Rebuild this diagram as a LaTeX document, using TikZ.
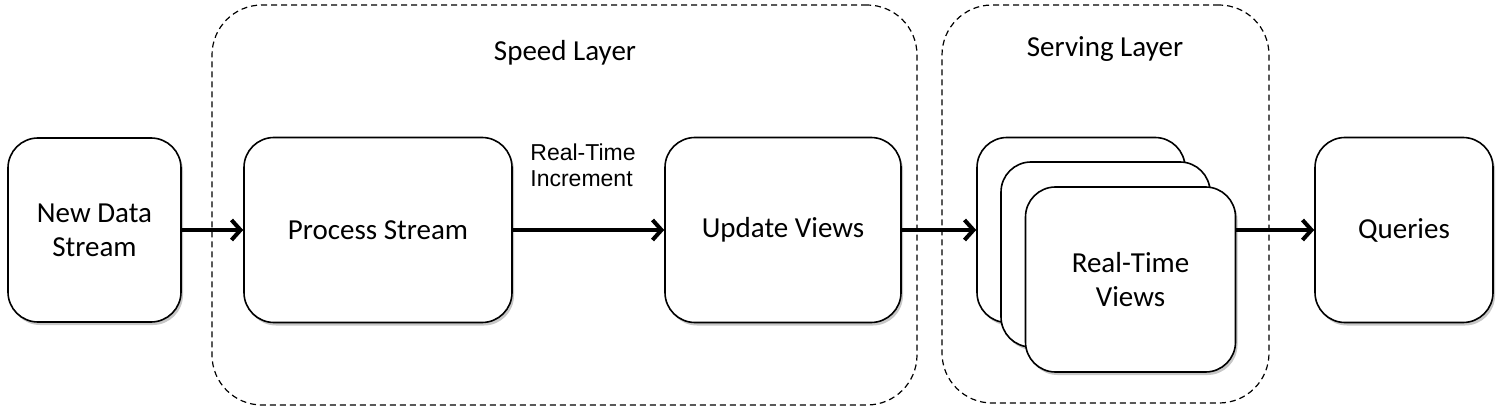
\documentclass[tikz,border=0pt]{standalone}
\usepackage{fontspec}
\setmainfont{Carlito}
\newfontfamily\arialfont{Liberation Sans}
\usetikzlibrary{arrows.meta,shadows}
\begin{document}
\begin{tikzpicture}[x=1pt,y=-1pt,
  box/.style={draw=black, line width=1.6pt, fill=white, rounded corners=30pt,
    inner sep=0pt, align=center, font=\fontsize{29}{34}\selectfont,
    drop shadow={shadow xshift=2pt, shadow yshift=-3pt, opacity=0.22, fill=black}},
  layer/.style={draw=black, line width=1.2pt, dash pattern=on 6pt off 4pt,
    rounded corners=50pt, inner sep=0pt},
  flow/.style={line width=4pt, -{Straight Barb[length=9pt,width=20pt,line width=4pt]}},
  title/.style={font=\fontsize{29}{34}\selectfont},
  lbl/.style={font=\arialfont\fontsize{23}{26}\selectfont, align=left}
]
\useasboundingbox (0,0) rectangle (1501,414);
% layers
\node[layer, minimum width=705pt, minimum height=400pt] (speed) at (564.5,205) {};
\node[layer, minimum width=327pt, minimum height=398pt] (serving) at (1105.5,204) {};
\node[title] (speedt) at (565,53) {Speed Layer};
\node[title] (servt) at (1105,49) {Serving Layer};
% boxes
\node[box, minimum width=173pt, minimum height=184pt] (nds) at (94.5,230) {New Data\\Stream};
\node[box, minimum width=268pt, minimum height=185pt] (ps) at (378,230) {Process Stream};
\node[box, minimum width=236pt, minimum height=185pt] (uv) at (783,230) {Update Views};
\node[box, minimum width=208pt, minimum height=185pt] (rv1) at (1081,230) {};
\node[box, minimum width=209pt, minimum height=185pt] (rv2) at (1105.5,254.5) {};
\node[box, minimum width=210pt, minimum height=185pt] (rv3) at (1130.5,279.5) {Real-Time\\Views};
\node[box, minimum width=178pt, minimum height=185pt] (q) at (1404,230) {Queries};
% label
\node[lbl] (inc) at (583,165) {Real-Time\\Increment};
% arrows
\draw[flow] (nds.east) -- (ps.west);
\draw[flow] (ps.east) -- (uv.west);
\draw[flow] (uv.east) -- (rv1.west);
\draw[flow] (rv3.east |- q.west) -- (q.west);
\end{tikzpicture}
\end{document}
